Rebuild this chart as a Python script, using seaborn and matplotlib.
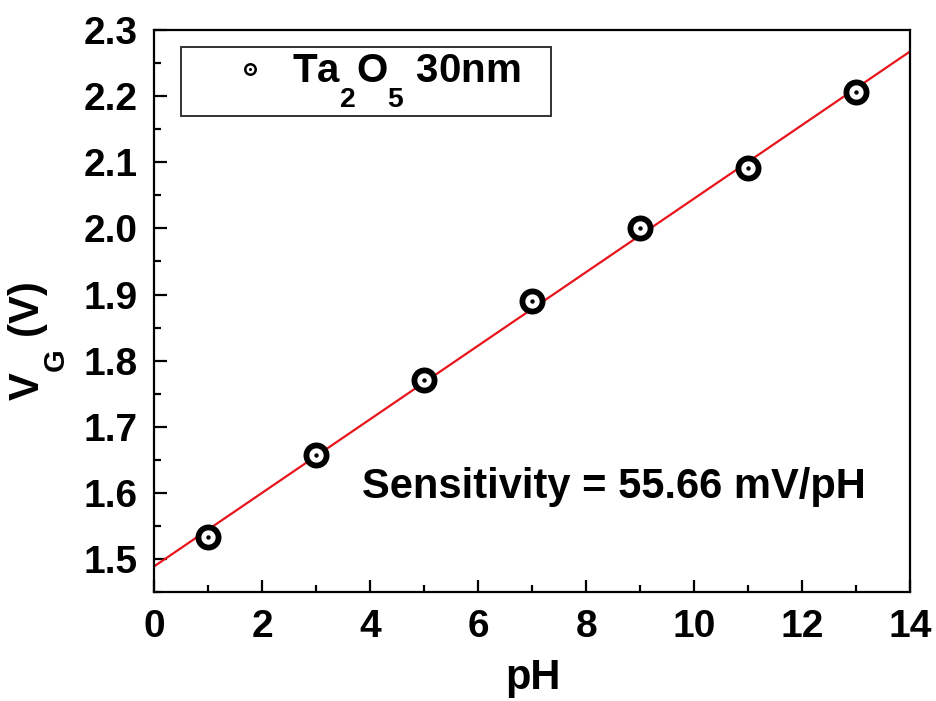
import numpy as np
import pandas as pd
import matplotlib
matplotlib.use("Agg")
import matplotlib.pyplot as plt
from matplotlib.ticker import MultipleLocator, FormatStrFormatter
from matplotlib.legend_handler import HandlerTuple
import seaborn as sns

# Measured gate voltage vs. pH
ph = [1, 3, 5, 7, 9, 11, 13]
vg = [1.533, 1.657, 1.770, 1.890, 2.000, 2.092, 2.206]
sensitivity_mv = 55.66  # mV/pH, slope of the linear fit
series_label = r"Ta$_2$O$_5$ 30nm"

sns.set_theme(style="ticks")
plt.rcParams["font.family"] = ["Liberation Sans", "DejaVu Sans"]
plt.rcParams["font.weight"] = "bold"
plt.rcParams["text.color"] = "black"
plt.rcParams["axes.labelcolor"] = "black"
plt.rcParams["xtick.color"] = "black"
plt.rcParams["ytick.color"] = "black"
plt.rcParams["mathtext.fontset"] = "custom"
plt.rcParams["mathtext.rm"] = "Liberation Sans:bold"
plt.rcParams["mathtext.it"] = "Liberation Sans:bold"
plt.rcParams["mathtext.bf"] = "Liberation Sans:bold"

# drop subscripts well below the baseline
try:
    from matplotlib import _mathtext
    _mathtext.FontConstantsBase.sub1 = 1.15
    _mathtext.FontConstantsBase.sub2 = 1.15
except Exception:
    pass

df = pd.DataFrame({"pH": ph, "VG": vg})

# linear fit line with the stated slope, through the data centroid
slope = sensitivity_mv / 1000.0
intercept = np.mean(vg) - slope * np.mean(ph)
fit = pd.DataFrame({"pH": [0, 14]})
fit["VG"] = intercept + slope * fit["pH"]

fig = plt.figure(figsize=(9.37, 7.01), dpi=100)
ax = fig.add_axes([0.1644, 0.1555, 0.807, 0.8015])

sns.lineplot(data=fit, x="pH", y="VG", ax=ax, color="#e8141c", lw=1.6, zorder=2)
sns.scatterplot(data=df, x="pH", y="VG", ax=ax, marker="o", s=210,
                facecolor="white", edgecolor="black", linewidth=4.2, zorder=3)
sns.scatterplot(data=df, x="pH", y="VG", ax=ax, marker="o", s=10,
                color="black", linewidth=0, zorder=4)

ax.set_xlim(0, 14)
ax.set_ylim(1.45, 2.3)
ax.xaxis.set_major_locator(MultipleLocator(2))
ax.xaxis.set_minor_locator(MultipleLocator(1))
ax.yaxis.set_major_locator(MultipleLocator(0.1))
ax.yaxis.set_minor_locator(MultipleLocator(0.05))
ax.yaxis.set_major_formatter(FormatStrFormatter("%.1f"))

for side in ax.spines.values():
    side.set_linewidth(1.6)
    side.set_color("black")
ax.tick_params(which="both", direction="in", top=False, right=False,
               width=1.6, color="black")
ax.tick_params(which="major", length=9, labelsize=28, pad=12)
ax.tick_params(which="minor", length=5)
for lab in ax.get_xticklabels() + ax.get_yticklabels():
    lab.set_fontweight("bold")

ax.set_xlabel("pH", fontsize=30, fontweight="bold")
ax.set_ylabel(r"V$_G$ (V)", fontsize=30, fontweight="bold")
ax.xaxis.set_label_coords(0.501, -0.118)
ax.yaxis.set_label_coords(-0.114, 0.446)

ax.text(3.85, 1.609, f"Sensitivity = {sensitivity_mv:.2f} mV/pH",
        fontsize=30, fontweight="bold", ha="left", va="center")

ring = plt.Line2D([], [], marker="o", ls="none", ms=7.5, mfc="white",
                  mec="black", mew=1.8)
dot = plt.Line2D([], [], marker="o", ls="none", ms=2.2, mfc="black",
                 mec="black", mew=0)
leg_w = 0.4894
leg_h = 0.1174
leg = ax.legend([(ring, dot)], [series_label],
                handler_map={tuple: HandlerTuple(ndivide=1)},
                loc="upper left", mode="expand",
                bbox_to_anchor=(0.0357, 0.970 - leg_h, leg_w, leg_h),
                fontsize=29, frameon=True, fancybox=False,
                edgecolor="black", borderpad=0.15, handlelength=3.1,
                handletextpad=-0.5, borderaxespad=0)
leg.get_frame().set_linewidth(1.4)
for t in leg.get_texts():
    t.set_fontweight("bold")

fig.savefig("out.png", dpi=100, facecolor="white")
